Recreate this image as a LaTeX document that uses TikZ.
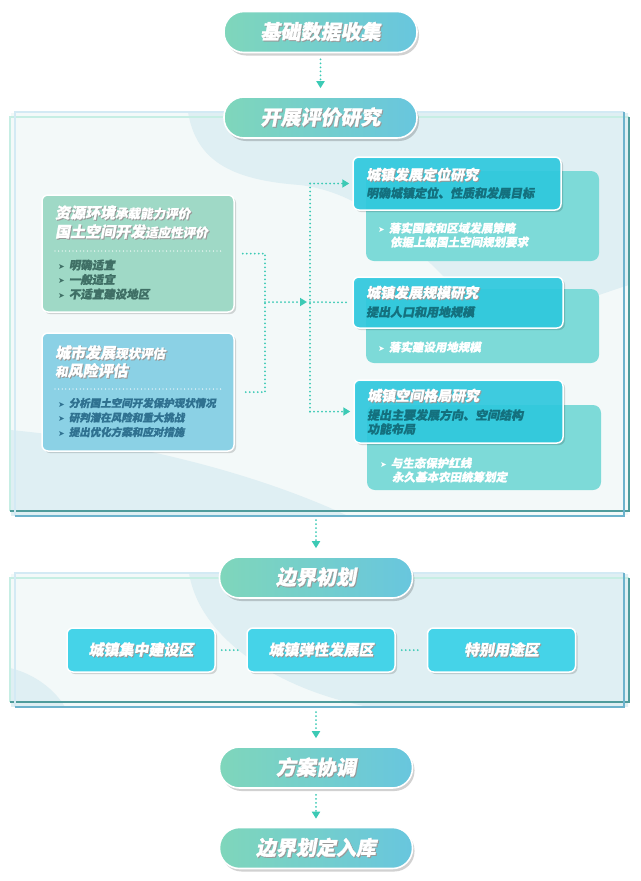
\documentclass[tikz,border=0pt]{standalone}
\usepackage{fontspec}
\setmainfont{Noto Sans CJK SC}[UprightFeatures={FakeSlant=0.18}, BoldFeatures={FakeSlant=0.18, FakeBold=1.2}]
\newfontfamily\symfont{DejaVu Sans}
\usetikzlibrary{positioning,shadows,arrows.meta}

\definecolor{pillgreen}{HTML}{7FD6BB}
\definecolor{pillblue}{HTML}{68C6DE}
\definecolor{greenbox}{HTML}{9FD9C6}
\definecolor{greentext}{HTML}{3F6F65}
\definecolor{bluebox}{HTML}{8BD1E5}
\definecolor{bluetext}{HTML}{2F7190}
\definecolor{cyanbox}{HTML}{2FCBE1}
\definecolor{subtext}{HTML}{14707E}
\definecolor{backteal}{HTML}{7DDAD8}
\definecolor{zonecyan}{HTML}{45D3E8}
\definecolor{flowcol}{HTML}{3CCAB5}
\definecolor{panelfill}{HTML}{F3F9F9}
\definecolor{blobcol}{HTML}{DFEFF3}
\definecolor{mintedge}{HTML}{C6EEE4}
\definecolor{tealedge}{HTML}{4F9C9C}
\definecolor{skyedge}{HTML}{D3EAF4}
\definecolor{blueedge}{HTML}{6DB3CD}

\newcommand\shadowed[1]{\makebox[0pt][l]{\kern1pt\raisebox{-1pt}{\textcolor{black!40}{#1}}}#1}
\newcommand\pillfont{\fontsize{20}{23}\selectfont\bfseries}
\newcommand\headbig{\fontsize{15}{17}\selectfont\bfseries}
\newcommand\headsmall{\fontsize{12.5}{15}\selectfont\bfseries}
\newcommand\itemfont{\fontsize{11.5}{14}\selectfont\bfseries}
\newcommand\tip{{\symfont\fontsize{8}{8}\selectfont ➤}\hspace{4pt}}

\tikzstyle{pill} = [rectangle, rounded corners=20pt, draw=white, line width=1.6pt, left color=pillgreen, right color=pillblue, minimum width=193pt, minimum height=41pt, text=white, font=\pillfont, drop shadow={shadow xshift=2pt, shadow yshift=-3pt, fill=black, opacity=0.18}]
\tikzstyle{evalbox} = [rectangle, rounded corners=6pt, draw=white, line width=1.5pt, minimum width=192pt, drop shadow={shadow xshift=2pt, shadow yshift=-2pt, fill=black, opacity=0.15}]
\tikzstyle{titlebox} = [rectangle, rounded corners=6pt, draw=white, line width=1.5pt, fill=cyanbox, fill opacity=0.9, drop shadow={shadow xshift=2pt, shadow yshift=-2pt, fill=black, opacity=0.15}]
\tikzstyle{backbox} = [rectangle, rounded corners=8pt, fill=backteal]
\tikzstyle{zonebox} = [rectangle, rounded corners=6pt, draw=white, line width=1.5pt, fill=zonecyan, minimum width=148pt, minimum height=44pt, text=white, font=\fontsize{15}{17}\selectfont\bfseries, drop shadow={shadow xshift=2pt, shadow yshift=-2pt, fill=black, opacity=0.15}]
\tikzstyle{txt} = [inner sep=0pt, anchor=west]
\tikzstyle{link} = [draw=flowcol, line width=2pt, line cap=round, dash pattern=on 0pt off 4pt]
\tikzstyle{flow} = [link, -{Triangle[width=8pt,length=7pt]}]
\tikzstyle{sepline} = [draw=white, line width=1.3pt, line cap=round, dash pattern=on 0pt off 3.6pt]

\begin{document}
\begin{tikzpicture}[x=1pt, y=-1pt]
    \useasboundingbox (0,0) rectangle (640,881);

    % Panels
    \fill[panelfill] (11,113) rectangle (628,515);
    \begin{scope}
      \clip (11,113) rectangle (628,515);
      \fill[blobcol] (188,112) .. controls (196,160) and (230,180) .. (300,185) .. controls (380,195) and (420,260) .. (470,300) .. controls (520,330) and (580,300) .. (629,285) -- (629,112) -- cycle;
      \fill[blobcol] (10,430) .. controls (120,440) and (250,470) .. (348,516) -- (10,516) -- cycle;
    \end{scope}
    \draw[mintedge, line width=1.2pt] (10,511) -- (10,117) -- (629,117);
    \draw[tealedge, line width=1.2pt] (10,511) -- (629,511) -- (629,117);
    \draw[skyedge, line width=1.2pt] (15,516) -- (15,112) -- (624,112);
    \draw[blueedge, line width=1.2pt] (15,516) -- (624,516) -- (624,112);

    \fill[panelfill] (11,574) rectangle (628,706);
    \begin{scope}
      \clip (11,574) rectangle (628,706);
      \fill[blobcol] (189,573) .. controls (200,640) and (280,690) .. (369,707) -- (629,707) -- (629,573) -- cycle;
      \fill[blobcol] (10,668) .. controls (35,674) and (55,690) .. (65,707) -- (10,707) -- cycle;
    \end{scope}
    \draw[mintedge, line width=1.2pt] (10,702) -- (10,578) -- (629,578);
    \draw[tealedge, line width=1.2pt] (10,702) -- (629,702) -- (629,578);
    \draw[skyedge, line width=1.2pt] (15,707) -- (15,573) -- (624,573);
    \draw[blueedge, line width=1.2pt] (15,707) -- (624,707) -- (624,573);
    \coordinate (panel-one) at (316,520);
    \coordinate (panel-two) at (316,712);

    % Place nodes
    \node[pill] (collect) at (320.5,32) {\shadowed{基础数据收集}};
    \node[pill] (evaluate) at (320.5,117.5) {\shadowed{开展评价研究}};
    \node[pill] (draft) at (316,577.5) {\shadowed{边界初划}};
    \node[pill] (negotiate) at (316,767.5) {\shadowed{方案协调}};
    \node[pill] (archive) at (316,848) {\shadowed{边界划定入库}};

    % left: evaluations
    \node[evalbox, fill=greenbox, minimum height=117pt] (capacity) at (138,253.5) {};
    \node[txt, text=white] (capacity-l1) at (55,213) {\shadowed{{\headbig 资源环境}{\headsmall 承载能力评价}}};
    \node[txt, text=white] (capacity-l2) at (55,232) {\shadowed{{\headbig 国土空间开发}{\headsmall 适应性评价}}};
    \draw[sepline] (55,251) -- (222,251);
    \node[txt, text=greentext, font=\itemfont] (capacity-i1) at (58,265) {\tip 明确适宜};
    \node[txt, text=greentext, font=\itemfont] (capacity-i2) at (58,279.5) {\tip 一般适宜};
    \node[txt, text=greentext, font=\itemfont] (capacity-i3) at (58,294) {\tip 不适宜建设地区};

    \node[evalbox, fill=bluebox, minimum height=118pt] (status) at (138,392) {};
    \node[txt, text=white] (status-l1) at (55,353) {\shadowed{{\headbig 城市发展}{\headsmall 现状评估}}};
    \node[txt, text=white] (status-l2) at (55,371) {\shadowed{{\headsmall 和}{\headbig 风险评估}}};
    \draw[sepline] (55,389) -- (222,389);
    \node[txt, text=bluetext, font=\itemfont\fontsize{10.5}{13}\selectfont] (status-i1) at (58,403) {\tip 分析国土空间开发保护现状情况};
    \node[txt, text=bluetext, font=\itemfont\fontsize{10.5}{13}\selectfont] (status-i2) at (58,417.5) {\tip 研判潜在风险和重大挑战};
    \node[txt, text=bluetext, font=\itemfont\fontsize{10.5}{13}\selectfont] (status-i3) at (58,432) {\tip 提出优化方案和应对措施};

    % right: studies
    \node[backbox, minimum width=233pt, minimum height=90pt] (position-back) at (482.5,216) {};
    \node[titlebox, minimum width=208pt, minimum height=53pt] (position) at (457,183.5) {};
    \node[txt, text=white, font=\headbig\fontsize{14}{16}\selectfont] (position-t) at (366,175) {\shadowed{城镇发展定位研究}};
    \node[txt, text=subtext, font=\headsmall\fontsize{12}{14}\selectfont] (position-s) at (366,193) {明确城镇定位、性质和发展目标};
    \node[txt, text=white, font=\itemfont] (position-i1) at (378,228) {\tip 落实国家和区域发展策略};
    \node[txt, text=white, font=\itemfont] (position-i2) at (390,242) {依据上级国土空间规划要求};

    \node[backbox, minimum width=233pt, minimum height=74pt] (scale-back) at (482.5,326) {};
    \node[titlebox, minimum width=210pt, minimum height=51pt] (scale) at (458,302.5) {};
    \node[txt, text=white, font=\headbig\fontsize{14}{16}\selectfont] (scale-t) at (366,293) {\shadowed{城镇发展规模研究}};
    \node[txt, text=subtext, font=\headsmall\fontsize{12}{14}\selectfont] (scale-s) at (366,312) {提出人口和用地规模};
    \node[txt, text=white, font=\itemfont] (scale-i1) at (378,347) {\tip 落实建设用地规模};

    \node[backbox, minimum width=234pt, minimum height=85pt] (pattern-back) at (484,447.5) {};
    \node[titlebox, minimum width=209pt, minimum height=63pt] (pattern) at (458.5,411.5) {};
    \node[txt, text=white, font=\headbig\fontsize{14}{16}\selectfont] (pattern-t) at (367,396) {\shadowed{城镇空间格局研究}};
    \node[txt, text=subtext, font=\headsmall\fontsize{12}{14}\selectfont] (pattern-s1) at (367,415) {提出主要发展方向、空间结构};
    \node[txt, text=subtext, font=\headsmall\fontsize{12}{14}\selectfont] (pattern-s2) at (367,429) {功能布局};
    \node[txt, text=white, font=\itemfont] (pattern-i1) at (380,463) {\tip 与生态保护红线};
    \node[txt, text=white, font=\itemfont] (pattern-i2) at (392,477) {永久基本农田统筹划定};

    % zones
    \node[zonebox] (core-zone) at (141,650) {\shadowed{城镇集中建设区}};
    \node[zonebox] (flex-zone) at (321,650) {\shadowed{城镇弹性发展区}};
    \node[zonebox] (special-zone) at (501.5,650) {\shadowed{特别用途区}};

    % Draw edges
    \coordinate (join-left) at (265,302);
    \coordinate (join-right) at (310,302);
    \draw[flow] ([yshift=-6pt]collect.south) -- ([yshift=8pt]evaluate.north);
    \draw[link] ([xshift=8pt]capacity.east) -| (join-left) |- ([xshift=8pt]status.east);
    \draw[flow] (join-left) -- ([xshift=-3pt]join-right);
    \draw[link] (join-right |- position.west) -- (join-right |- pattern.west);
    \draw[link] (join-right) -- ([xshift=-4pt]scale.west);
    \draw[flow] (join-right |- position.west) -- ([xshift=-3pt]position.west);
    \draw[flow] (join-right |- pattern.west) -- ([xshift=-3pt]pattern.west);
    \draw[flow] (panel-one) -- ([yshift=8pt]draft.north);
    \draw[link] ([xshift=6pt]core-zone.east) -- ([xshift=-6pt]flex-zone.west);
    \draw[link] ([xshift=6pt]flex-zone.east) -- ([xshift=-6pt]special-zone.west);
    \draw[flow] (panel-two) -- ([yshift=8pt]negotiate.north);
    \draw[flow] ([yshift=-6pt]negotiate.south) -- ([yshift=8pt]archive.north);
\end{tikzpicture}
\end{document}
